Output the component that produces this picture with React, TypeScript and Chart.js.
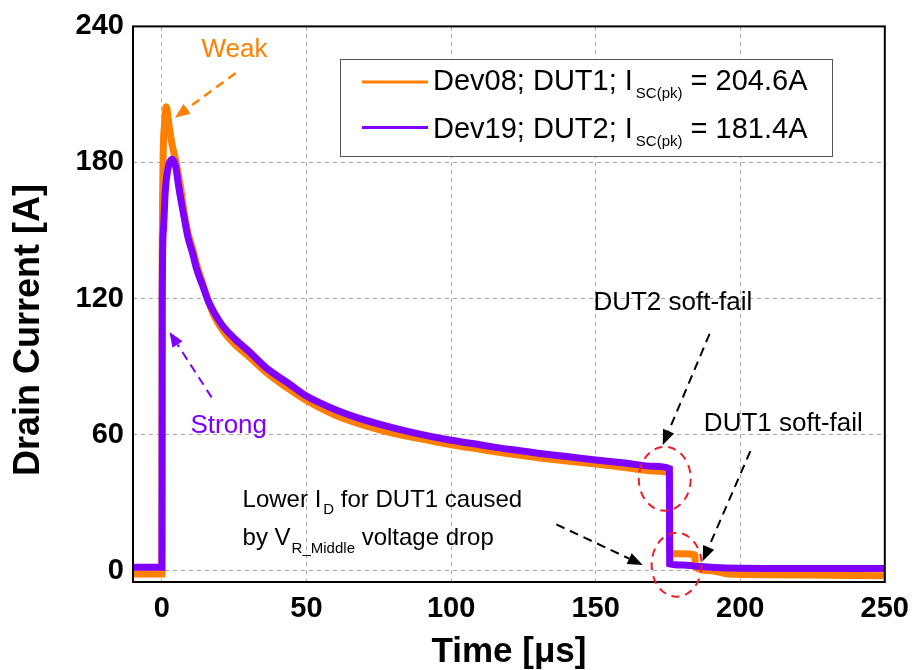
import React, { useEffect, useRef } from "react";
import { Chart, registerables } from "chart.js";

Chart.register(...registerables);

const FONT = '"Liberation Sans", Arial, Helvetica, sans-serif';

// DUT1 (Dev08) – orange trace
const timeDut1 = [
  -10, -5, 0, 0.1, 0.8, 1.5, 2.5, 3.5, 4.9, 6.5, 7.8, 9, 10.6, 12, 14, 16, 18, 21, 25, 30, 36, 44, 50,
  60, 70, 80, 90, 100, 110, 120, 130, 140, 150, 160, 170, 175.5, 175.6, 180, 184.3, 184.5, 190, 196,
  210, 230, 250,
];
const currentDut1 = [
  -1.5, -1.5, -1.5, 140, 195, 204.6, 196, 188, 180, 168.5, 157, 149, 142, 135, 127, 119, 112.5, 106, 100,
  94.5, 87.5, 80, 75, 68.5, 64, 60.5, 58, 55.5, 53.5, 51.5, 49.8, 48.3, 47, 45.5, 44, 43, 7.5, 7.5, 7,
  1.5, 0, -1.5, -1.8, -2, -2.2,
];

// DUT2 (Dev19) – purple trace
const timeDut2 = [
  -10, -5, 0, 0.1, 0.5, 1.2, 2.2, 3.5, 4.8, 5.6, 6.5, 7.8, 9, 10.6, 12, 14, 16, 18, 21, 25, 30, 36, 44,
  50, 60, 70, 80, 90, 100, 110, 120, 130, 140, 150, 160, 170, 175.5, 175.6, 180, 186, 195, 220, 250,
];
const currentDut2 = [
  1.5, 1.5, 1.5, 120, 150, 168, 178, 181.4, 178, 171, 164, 155, 147, 140, 133, 126, 119, 114, 108,
  102.5, 96.8, 89.5, 82.4, 77, 71, 66.5, 63, 60, 57.5, 55.5, 53.5, 51.8, 50.3, 48.8, 47.5, 46, 45, 3,
  2.5, 1.8, 1.2, 1, 1,
];

const xTickValues = [0, 50, 100, 150, 200, 250];
const yTickValues = [0, 60, 120, 180, 240];
const legendNames = ["Dev08; DUT1; I", "Dev19; DUT2; I"];
const legendPeaks = [" = 204.6A", " = 181.4A"];

const ORANGE = "#ff8000";
const PURPLE = "#8000ff";

function arrow(ctx: CanvasRenderingContext2D, x1: number, y1: number, x2: number, y2: number, color: string, width: number) {
  const ang = Math.atan2(y2 - y1, x2 - x1);
  const headLen = 15;
  const headW = 6;
  const bx = x2 - headLen * Math.cos(ang);
  const by = y2 - headLen * Math.sin(ang);
  ctx.save();
  ctx.strokeStyle = color;
  ctx.fillStyle = color;
  ctx.lineWidth = width;
  ctx.setLineDash([9, 6]);
  ctx.beginPath();
  ctx.moveTo(x1, y1);
  ctx.lineTo(bx, by);
  ctx.stroke();
  ctx.setLineDash([]);
  ctx.beginPath();
  ctx.moveTo(x2, y2);
  ctx.lineTo(bx + headW * Math.sin(ang), by - headW * Math.cos(ang));
  ctx.lineTo(bx - headW * Math.sin(ang), by + headW * Math.cos(ang));
  ctx.closePath();
  ctx.fill();
  ctx.restore();
}

function rich(ctx: CanvasRenderingContext2D, parts: [string, number, number, number][], x: number, y: number) {
  let cx = x;
  for (const [text, size, dy, gap] of parts) {
    ctx.font = `${size}px ${FONT}`;
    ctx.fillText(text, cx + gap, y + dy);
    cx += gap + ctx.measureText(text).width;
  }
}

const annotationPlugin = {
  id: "annotations",
  afterDraw(chart: any) {
    const ctx: CanvasRenderingContext2D = chart.ctx;
    const xs = chart.scales.x;
    const ys = chart.scales.y;
    const P = (t: number, v: number): [number, number] => [xs.getPixelForValue(t), ys.getPixelForValue(v)];
    const ca = chart.chartArea;
    ctx.save();

    // frame
    ctx.strokeStyle = "#000";
    ctx.lineWidth = 2;
    ctx.setLineDash([]);
    ctx.strokeRect(ca.left, ca.top, ca.right - ca.left, ca.bottom - ca.top);

    // axis titles
    ctx.fillStyle = "#000";
    ctx.textAlign = "center";
    ctx.textBaseline = "middle";
    ctx.font = `bold 36px ${FONT}`;
    ctx.save();
    ctx.translate(29, 330);
    ctx.rotate(-Math.PI / 2);
    ctx.fillText("Drain Current [A]", 0, 0);
    ctx.restore();
    ctx.font = `bold 35px ${FONT}`;
    ctx.textBaseline = "alphabetic";
    ctx.fillText("Time [\u03bcs]", 509, 662);

    // Weak / Strong
    ctx.textBaseline = "middle";
    ctx.font = `26px ${FONT}`;
    ctx.fillStyle = ORANGE;
    let p = P(25.1, 229.5);
    ctx.fillText("Weak", p[0], p[1]);
    let a = P(25.5, 219.4);
    let b = P(4.5, 199.75);
    arrow(ctx, a[0], a[1], b[0], b[1], ORANGE, 2.5);

    ctx.fillStyle = PURPLE;
    p = P(23.1, 63.7);
    ctx.fillText("Strong", p[0], p[1]);
    a = P(17.2, 76.4);
    b = P(2.6, 105.25);
    arrow(ctx, a[0], a[1], b[0], b[1], PURPLE, 2);

    // soft-fail labels
    ctx.fillStyle = "#000";
    p = P(176.7, 117.9);
    ctx.fillText("DUT2 soft-fail", p[0], p[1]);
    a = P(189.4, 104.4);
    b = P(173.2, 55.4);
    arrow(ctx, a[0], a[1], b[0], b[1], "#000", 2);

    p = P(214.9, 64.6);
    ctx.fillText("DUT1 soft-fail", p[0], p[1]);
    a = P(203.5, 52.75);
    b = P(187, 4.2);
    arrow(ctx, a[0], a[1], b[0], b[1], "#000", 2);

    // Lower I_D text
    ctx.textAlign = "left";
    ctx.textBaseline = "alphabetic";
    p = P(27.9, 28.25);
    rich(ctx, [["Lower I", 24, 0, 0], ["D", 15, 7, 2], [" for DUT1 caused", 24, 0, 0]], p[0], p[1]);
    p = P(27.9, 11.2);
    rich(ctx, [["by V", 24, 0, 0], ["R_Middle", 15, 8, 1], [" voltage drop", 24, 0, 0]], p[0], p[1]);
    a = P(136.4, 20.4);
    b = P(166.3, 2.5);
    arrow(ctx, a[0], a[1], b[0], b[1], "#000", 2);

    // red dashed ellipses
    ctx.strokeStyle = "#e8202a";
    ctx.lineWidth = 2;
    ctx.setLineDash([8, 6]);
    p = P(173.9, 40.5);
    ctx.beginPath();
    ctx.ellipse(p[0], p[1], 26, 32, 0, 0, Math.PI * 2);
    ctx.stroke();
    p = P(178, 2.6);
    ctx.beginPath();
    ctx.ellipse(p[0], p[1], 25, 32, 0, 0, Math.PI * 2);
    ctx.stroke();
    ctx.setLineDash([]);

    // legend
    ctx.fillStyle = "#fff";
    ctx.fillRect(340, 59, 492, 97);
    ctx.strokeStyle = "#555";
    ctx.lineWidth = 1;
    ctx.strokeRect(340.5, 59.5, 492, 97);
    const rows = [
      { y: 90, lineY: 82, color: ORANGE },
      { y: 138, lineY: 127.5, color: PURPLE },
    ];
    rows.forEach((r, i) => {
      ctx.strokeStyle = r.color;
      ctx.lineWidth = 3;
      ctx.beginPath();
      ctx.moveTo(362, r.lineY);
      ctx.lineTo(428, r.lineY);
      ctx.stroke();
      ctx.fillStyle = "#000";
      rich(ctx, [[legendNames[i], 29, 0, 0], ["SC(pk)", 15, 8, 3], [legendPeaks[i], 29, 0, 0]], 433, r.y);
    });

    ctx.restore();
  },
};

export default function App() {
  const canvasRef = useRef<HTMLCanvasElement | null>(null);

  useEffect(() => {
    document.body.style.margin = "0";
    const canvas = canvasRef.current;
    if (!canvas) return;
    const chart = new Chart(canvas, {
      type: "line",
      data: {
        datasets: [
          {
            label: "Dev08; DUT1",
            data: timeDut1.map((t, i) => ({ x: t, y: currentDut1[i] })),
            borderColor: ORANGE,
            backgroundColor: ORANGE,
            borderWidth: 7,
            pointRadius: 0,
            cubicInterpolationMode: "monotone",
            order: 1,
          },
          {
            label: "Dev19; DUT2",
            data: timeDut2.map((t, i) => ({ x: t, y: currentDut2[i] })),
            borderColor: PURPLE,
            backgroundColor: PURPLE,
            borderWidth: 7,
            pointRadius: 0,
            cubicInterpolationMode: "monotone",
            order: 0,
          },
        ],
      },
      options: {
        animation: false,
        responsive: false,
        devicePixelRatio: 1,
        layout: { padding: { left: 0, top: 22, right: 31, bottom: 0 } },
        plugins: { legend: { display: false }, tooltip: { enabled: false } },
        scales: {
          x: {
            type: "linear",
            min: -10,
            max: 250,
            afterBuildTicks: (s: any) => {
              s.ticks = xTickValues.map((v) => ({ value: v }));
            },
            afterFit: (s: any) => {
              s.height = 88;
            },
            grid: { color: "#a8a8a8", lineWidth: 1, drawTicks: false },
            border: { display: false, dash: [4, 4] },
            ticks: {
              padding: 10,
              color: "#000",
              maxRotation: 0,
              font: { family: FONT, size: 29, weight: "bold" },
            },
          },
          y: {
            type: "linear",
            min: -5,
            max: 240,
            afterBuildTicks: (s: any) => {
              s.ticks = yTickValues.map((v) => ({ value: v }));
            },
            afterFit: (s: any) => {
              s.width = 133;
            },
            grid: { color: "#a8a8a8", lineWidth: 1, drawTicks: false },
            border: { display: false, dash: [4, 4] },
            ticks: {
              padding: 9,
              color: "#000",
              font: { family: FONT, size: 29, weight: "bold" },
            },
          },
        },
      },
      plugins: [annotationPlugin],
    } as any);
    return () => chart.destroy();
  }, []);

  return (
    <div style={{ position: "fixed", left: 0, top: 0, width: 919, height: 670, background: "#fff" }}>
      <canvas ref={canvasRef} width={919} height={670} style={{ width: 919, height: 670, display: "block" }} />
    </div>
  );
}
